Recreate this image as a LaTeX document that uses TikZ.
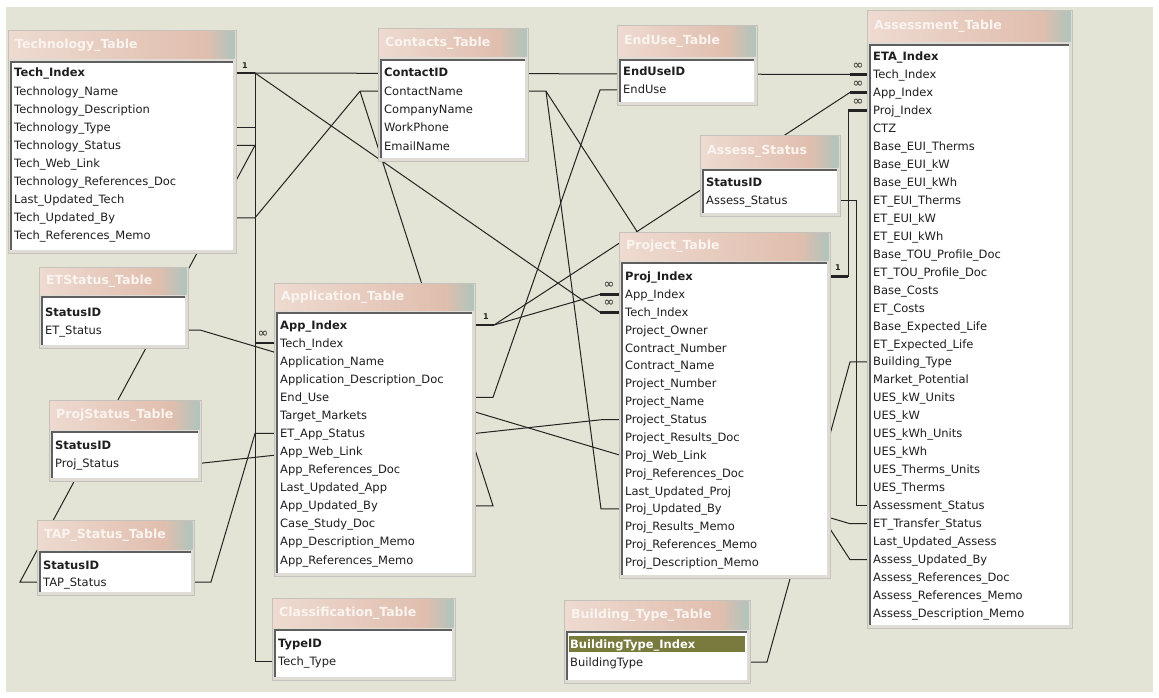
\documentclass[tikz,border=0pt]{standalone}
\usepackage{fontspec}
\setmainfont{DejaVu Sans}
\usetikzlibrary{calc}

\definecolor{canvas}{RGB}{228,228,214}
\definecolor{framecol}{RGB}{222,220,212}
\definecolor{frameedge}{RGB}{196,194,186}
\definecolor{titleA}{RGB}{238,218,208}
\definecolor{titleB}{RGB}{224,190,174}
\definecolor{titleC}{RGB}{176,196,188}
\definecolor{titletext}{RGB}{250,244,240}
\definecolor{rimcol}{RGB}{95,95,95}
\definecolor{inkcol}{RGB}{30,30,30}
\definecolor{wirecol}{RGB}{35,35,35}
\definecolor{pickcol}{RGB}{120,122,62}

\pgfdeclarelayer{ground}
\pgfdeclarelayer{links}
\pgfsetlayers{ground,links,main}

\tikzset{
  tabletitle/.style={anchor=west, inner sep=0pt, text=titletext, font=\fontsize{12.5}{13}\selectfont\bfseries},
  listbox/.style={anchor=north west, fill=white, inner sep=0pt, outer sep=0pt},
  listrim/.style={draw=rimcol, line width=1.2pt},
  fieldtext/.style={anchor=base west, inner sep=0pt, text=inkcol, font=\fontsize{11.5}{13}\selectfont},
  rel/.style={draw=wirecol, line width=1pt},
  keystub/.style={draw=wirecol, line width=2.6pt},
  manystub/.style={draw=wirecol, line width=2.6pt},
  onelabel/.style={inner sep=0pt, text=wirecol, font=\fontsize{8}{8}\selectfont\bfseries},
  manylabel/.style={inner sep=0pt, text=wirecol, font=\fontsize{13}{13}\selectfont},
}

% table frame: #1 name, #2 title, #3 left, #4 right, #5 top, #6 list top, #7 list bottom
\newcommand{\dbtable}[7]{%
  \fill[framecol] (#3,#5) rectangle (#4,#7+3);
  \draw[frameedge] (#3,#5) rectangle (#4,#7+3);
  \shade[left color=titleA, right color=titleB] (#3+1.5,#5+1.5) rectangle (#4-30,#6-3);
  \shade[left color=titleB, right color=titleC] (#4-30,#5+1.5) rectangle (#4-1.5,#6-3);
  \node[tabletitle] (#1-title) at (#3+7,{(#5+#6)/2-1}) {#2};
  \node[listbox, minimum width={#4-#3-6}, minimum height={#7-#6}] (#1) at (#3+3,#6) {};
  \draw[listrim] (#1.south west) -- (#1.north west) -- (#1.north east);
}
% field rows: #1 name, #2 list left, #3 first row, #4 row step, #5 fields
\newcommand{\dbfields}[5]{%
  \foreach \txt [count=\i] in {#5} {
    \coordinate (#1-\i) at (#2,{#3+(\i-1)*#4});
    \node[fieldtext] (#1-t\i) at ([xshift=3pt,yshift=-4pt]#1-\i) {\ifnum\i=1 \bfseries\fi\txt};
  }
}

\begin{document}
\begin{tikzpicture}[x=1pt,y=-1pt]
\useasboundingbox (0,0) rectangle (1159,698);
\begin{pgfonlayer}{ground}
  \fill[white] (0,0) rectangle (1159,698);
  \fill[canvas] (6,7) rectangle (1153,692);
\end{pgfonlayer}

% ---------- tables ----------
\dbtable{tech}{Technology\_Table}{8}{236}{30}{62}{250}
\dbfields{tech}{11}{73}{18.1}{Tech\_Index, Technology\_Name, Technology\_Description, Technology\_Type, Technology\_Status, Tech\_Web\_Link, Technology\_References\_Doc, Last\_Updated\_Tech, Tech\_Updated\_By, Tech\_References\_Memo}

\dbtable{contacts}{Contacts\_Table}{378}{528}{28}{60}{158}
\dbfields{contacts}{381}{73}{18.25}{ContactID, ContactName, CompanyName, WorkPhone, EmailName}

\dbtable{enduse}{EndUse\_Table}{617}{757}{25}{60}{102}
\dbfields{enduse}{620}{72}{18}{EndUseID, EndUse}

\dbtable{assessstat}{Assess\_Status}{700}{840}{135}{170}{213}
\dbfields{assessstat}{703}{182}{18}{StatusID, Assess\_Status}

\dbtable{assess}{Assessment\_Table}{867}{1072}{10}{45}{625}
\dbfields{assess}{870}{56.5}{17.97}{ETA\_Index, Tech\_Index, App\_Index, Proj\_Index, CTZ, Base\_EUI\_Therms, Base\_EUI\_kW, Base\_EUI\_kWh, ET\_EUI\_Therms, ET\_EUI\_kW, ET\_EUI\_kWh, Base\_TOU\_Profile\_Doc, ET\_TOU\_Profile\_Doc, Base\_Costs, ET\_Costs, Base\_Expected\_Life, ET\_Expected\_Life, Building\_Type, Market\_Potential, UES\_kW\_Units, UES\_kW, UES\_kWh\_Units, UES\_kWh, UES\_Therms\_Units, UES\_Therms, Assessment\_Status, ET\_Transfer\_Status, Last\_Updated\_Assess, Assess\_Updated\_By, Assess\_References\_Doc, Assess\_References\_Memo, Assess\_Description\_Memo}

\dbtable{project}{Project\_Table}{619}{830}{232}{263}{575}
\dbfields{project}{622}{276.5}{17.88}{Proj\_Index, App\_Index, Tech\_Index, Project\_Owner, Contract\_Number, Contract\_Name, Project\_Number, Project\_Name, Project\_Status, Project\_Results\_Doc, Proj\_Web\_Link, Proj\_References\_Doc, Last\_Updated\_Proj, Proj\_Updated\_By, Proj\_Results\_Memo, Proj\_References\_Memo, Proj\_Description\_Memo}

\dbtable{app}{Application\_Table}{274}{475}{283}{313}{573}
\dbfields{app}{277}{325}{18.08}{App\_Index, Tech\_Index, Application\_Name, Application\_Description\_Doc, End\_Use, Target\_Markets, ET\_App\_Status, App\_Web\_Link, App\_References\_Doc, Last\_Updated\_App, App\_Updated\_By, Case\_Study\_Doc, App\_Description\_Memo, App\_References\_Memo}

\dbtable{etstat}{ETStatus\_Table}{39}{188}{267}{297}{345}
\dbfields{etstat}{42}{312}{18}{StatusID, ET\_Status}

\dbtable{projstat}{ProjStatus\_Table}{49}{201}{400}{432}{478}
\dbfields{projstat}{52}{445}{18}{StatusID, Proj\_Status}

\dbtable{tap}{TAP\_Status\_Table}{37}{194}{520}{552}{592}
\dbfields{tap}{40}{565}{17}{StatusID, TAP\_Status}

\dbtable{class}{Classification\_Table}{272}{455}{598}{630}{677}
\dbfields{class}{275}{643}{18}{TypeID, Tech\_Type}

\dbtable{bld}{Building\_Type\_Table}{564}{750}{600}{632}{680}
\coordinate (bld-1) at (567,644);
\coordinate (bld-2) at (567,662);
\fill[pickcol] (569,636) rectangle (745,652);
\node[fieldtext, text=white, font=\fontsize{11.5}{13}\selectfont\bfseries] (bld-t1) at ([xshift=3pt,yshift=-4pt]bld-1) {BuildingType\_Index};
\node[fieldtext] (bld-t2) at ([xshift=3pt,yshift=-4pt]bld-2) {BuildingType};

% ---------- relationship lines (behind the tables) ----------
\begin{pgfonlayer}{links}
  \coordinate (jT1) at ($(tech.east |- tech-1)+(22,0)$);
  \coordinate (jT4) at ($(tech.east |- tech-4)+(22,0)$);
  \coordinate (jT5) at ($(tech.east |- tech-5)+(22,0)$);
  \coordinate (jT9) at ($(tech.east |- tech-9)+(22,0)$);
  \coordinate (jAs2) at ($(assess.west |- assess-2)+(-20,0)$);
  \coordinate (jAs3) at ($(assess.west |- assess-3)+(-20,0)$);
  \coordinate (jAs18) at ($(assess.west |- assess-18)+(-20,0)$);
  \coordinate (jAs27) at ($(assess.west |- assess-27)+(-20,0)$);
  \coordinate (jAs29) at ($(assess.west |- assess-29)+(-20,0)$);
  \coordinate (jCl) at ($(class.west |- class-2)+(-20,0)$);
  \coordinate (jTap) at ($(tap.west |- tap-2)+(-20,0)$);
  \coordinate (jTr) at ($(tap.east |- tap-2)+(20,0)$);
  \coordinate (jCn) at ($(contacts.west |- contacts-2)+(-21,0)$);
  \coordinate (jCr) at ($(contacts.east |- contacts-2)+(21,0)$);
  \coordinate (jA1) at ($(app.east |- app-1)+(22,0)$);
  \coordinate (jA2) at ($(app.west |- app-2)+(-22,0)$);
  \coordinate (jA5) at ($(app.east |- app-5)+(21,0)$);
  \coordinate (jA7) at ($(app.west |- app-7)+(-22,0)$);
  \coordinate (jA11) at ($(app.east |- app-11)+(21,0)$);
  \coordinate (jP1) at ($(project.east |- project-1)+(21,0)$);
  \coordinate (jP2) at ($(project.west |- project-2)+(-22,0)$);
  \coordinate (jP3) at ($(project.west |- project-3)+(-22,0)$);
  \coordinate (jP9) at ($(project.west |- project-9)+(-19,0)$);
  \coordinate (jP14) at ($(project.west |- project-14)+(-21,0)$);
  \coordinate (jE2) at ($(enduse.west |- enduse-2)+(-20,0)$);
  \coordinate (jEt) at ($(etstat.east |- etstat-2)+(15,0)$);
  \coordinate (jPs) at ($(projstat.east |- projstat-2)+(5,0)$);
  \coordinate (jS) at ($(assessstat.east |- assessstat-2)+(19,0)$);
  \coordinate (jB) at ($(bld.east |- bld-2)+(20,0)$);

  % thin links
  \draw[rel] (jT1) -- (jCl) -- (class.west |- class-2);
  \draw[rel] (jT1) -- (jAs2);
  \draw[rel] (jT1) -- (jP3);
  \draw[rel] (tech.east |- tech-4) -- (jT4);
  \draw[rel] (tech.east |- tech-5) -- (jT5) -- (jTap) -- (tap.west |- tap-2);
  \draw[rel] (tech.east |- tech-9) -- (jT9) -- (jCn) -- (contacts.west |- contacts-2);
  \draw[rel] (app.east |- app-11) -- (jA11) -- (jCn);
  \draw[rel] (contacts.east |- contacts-2) -- (jCr) -- (jP14) -- (project.west |- project-14);
  \draw[rel] (jCr) -- (jAs29) -- (assess.west |- assess-29);
  \draw[rel] (jA1) -- (jP2);
  \draw[rel] (jA1) -- (jAs3);
  \draw[rel] (app.east |- app-5) -- (jA5) -- (jE2) -- (enduse.west |- enduse-2);
  \draw[rel] (projstat.east |- projstat-2) -- (jPs) -- (jP9) -- (project.west |- project-9);
  \draw[rel] (etstat.east |- etstat-2) -- (jEt) -- (jAs27) -- (assess.west |- assess-27);
  \draw[rel] (tap.east |- tap-2) -- (jTr) -- (jA7) -- (app.west |- app-7);
  \draw[rel] (jP1) -- (jP1 |- assess-4);
  \draw[rel] (assessstat.east |- assessstat-2) -- (jS) -- (jS |- assess-26) -- (assess.west |- assess-26);
  \draw[rel] (bld.east |- bld-2) -- (jB) -- (jAs18) -- (assess.west |- assess-18);

  % key ends
  \draw[keystub] (tech.east |- tech-1) -- (jT1);
  \draw[keystub] (app.east |- app-1) -- (jA1);
  \draw[keystub] (project.east |- project-1) -- (jP1);
  \draw[manystub] (jA2) -- (app.west |- app-2);
  \draw[manystub] (jP2) -- (project.west |- project-2);
  \draw[manystub] (jP3) -- (project.west |- project-3);
  \draw[manystub] (jAs2) -- (assess.west |- assess-2);
  \draw[manystub] (jAs3) -- (assess.west |- assess-3);
  \draw[manystub] (jP1 |- assess-4) -- (assess.west |- assess-4);

  % cardinality marks
  \node[onelabel] (one-tech) at ($(jT1)+(-10,-7)$) {1};
  \node[onelabel] (one-app) at ($(jA1)+(-8,-8)$) {1};
  \node[onelabel] (one-proj) at ($(jP1)+(-10,-9)$) {1};
  \node[manylabel] (many-app) at ($(jA2)+(8,-9)$) {∞};
  \node[manylabel] (many-p2) at ($(jP2)+(9,-9)$) {∞};
  \node[manylabel] (many-p3) at ($(jP3)+(9,-9)$) {∞};
  \node[manylabel] (many-a2) at ($(jAs2)+(8,-8)$) {∞};
  \node[manylabel] (many-a3) at ($(jAs3)+(8,-8)$) {∞};
  \node[manylabel] (many-a4) at ($(jP1 |- assess-4)+(10,-8)$) {∞};
\end{pgfonlayer}
\end{tikzpicture}
\end{document}
